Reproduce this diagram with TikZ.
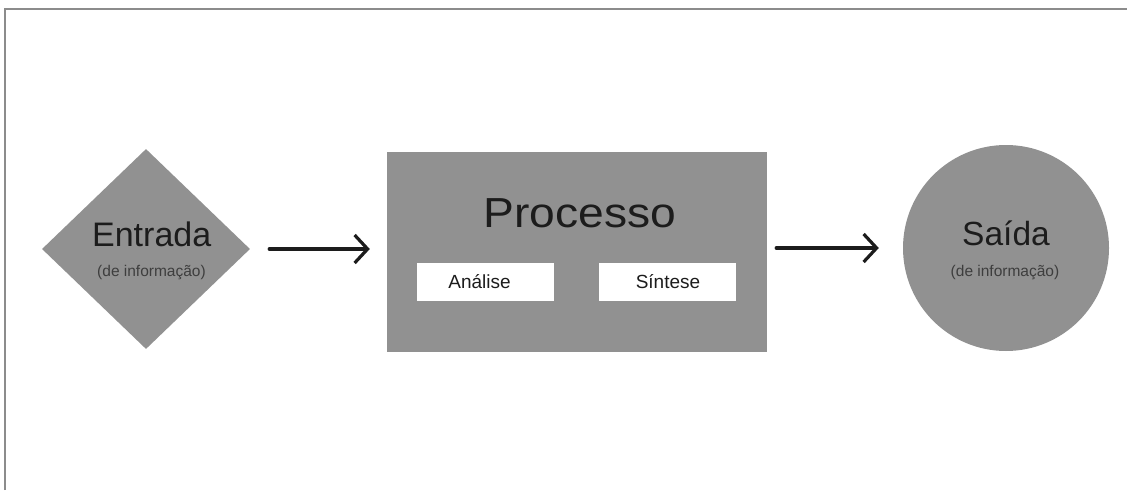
\documentclass[tikz,border=0pt]{standalone}
\usepackage{fontspec}
\setmainfont{Liberation Sans}
\usetikzlibrary{shapes.geometric,arrows.meta}

\definecolor{boxgray}{RGB}{145,145,145}
\definecolor{ink}{RGB}{28,28,28}
\definecolor{frame}{RGB}{140,140,140}

\tikzset{
  shapefill/.style={fill=boxgray, draw=none, inner sep=0pt},
  subbox/.style={fill=white, draw=none, minimum width=137pt, minimum height=38pt, inner sep=0pt},
  flow/.style={line width=3.2pt, ink, line cap=round, line join=round,
               -{Straight Barb[length=13pt,width=28pt,line width=3.2pt]}},
  bigtxt/.style={text=ink, anchor=base, inner sep=0pt},
  smalltxt/.style={text=ink!85, anchor=base, inner sep=0pt, font=\fontsize{15.5}{18}\selectfont},
}

\begin{document}
\begin{tikzpicture}[x=1pt, y=-1pt]
  \useasboundingbox (0,0) rectangle (1127,490);
  \fill[white] (0,0) rectangle (1127,490);

  % page frame (top and left edges)
  \draw[frame, line width=2pt] (4.7,490) -- (4.7,8.5) -- (1127,8.5);

  % input
  \node[shapefill, diamond, minimum width=208pt, minimum height=200pt] (entrada) at (146,249) {};
  \node[bigtxt, font=\fontsize{34}{40}\selectfont] (entradaT) at (151.7,246.7) {Entrada};
  \node[smalltxt] (entradaS) at (151.5,276.5) {(de informação)};

  % process
  \node[shapefill, rectangle, minimum width=380pt, minimum height=200pt] (proc) at (577,252) {};
  \node[bigtxt, font=\fontsize{42}{48}\selectfont] (procT) at (580,227.3) {\scalebox{1.1}[1]{Processo}};
  \node[subbox] (analise) at (485.5,282) {};
  \node[bigtxt, font=\fontsize{19}{22}\selectfont] (analiseT) at (479.5,288) {Análise};
  \node[subbox] (sintese) at (667.5,282) {};
  \node[bigtxt, font=\fontsize{19}{22}\selectfont] (sinteseT) at (668,288) {Síntese};

  % output
  \node[shapefill, circle, minimum size=206pt] (saida) at (1006,248) {};
  \node[bigtxt, font=\fontsize{33.5}{40}\selectfont] (saidaT) at (1006,245.7) {Saída};
  \node[smalltxt] (saidaS) at (1005,276) {(de informação)};

  % connectors
  \draw[flow, shorten <=19pt, shorten >=17pt] (entrada.east) -- (entrada.east -| proc.west);
  \draw[flow, shorten <=9pt, shorten >=24pt] (proc.east |- saida.west) -- (saida.west);
\end{tikzpicture}
\end{document}
